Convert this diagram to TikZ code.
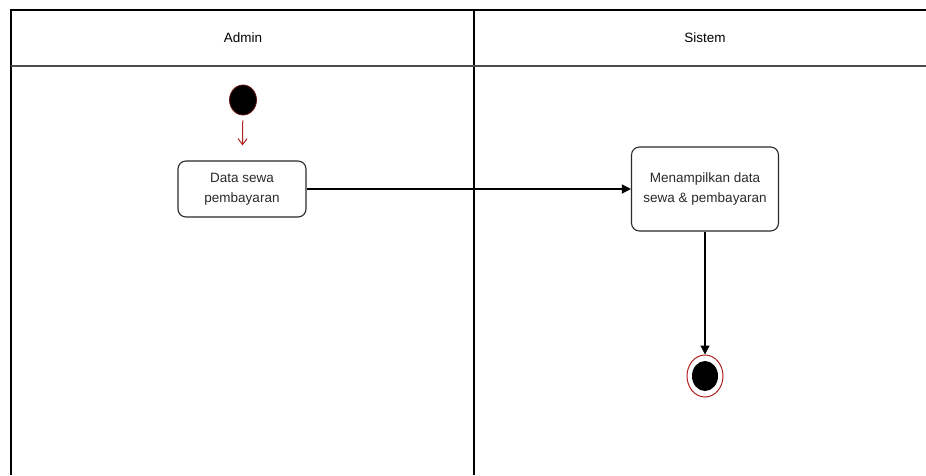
\documentclass[tikz,border=0pt]{standalone}
\usepackage{fontspec}
\setmainfont{Liberation Sans}
\usetikzlibrary{arrows.meta,shapes.geometric}
\definecolor{ink}{HTML}{2A2A2A}
\definecolor{ringred}{HTML}{B02020}
\begin{document}
\begin{tikzpicture}[x=1pt,y=-1pt,
  lane/.style={draw=black,line width=1.3pt},
  headrule/.style={draw=black!70,line width=2pt},
  lanetitle/.style={font=\fontsize{13.5}{15}\selectfont,text=black},
  action/.style={draw=ink,line width=1.1pt,rounded corners=8pt,fill=white,
    align=center,text=ink,font=\fontsize{13.5}{19.5}\selectfont,inner sep=0pt},
  flow/.style={draw=black,line width=1.2pt,-{Triangle[length=9pt,width=9pt]}},
  initial/.style={ellipse,fill=black,draw=ringred!60!black,line width=0.8pt,
    minimum width=27pt,minimum height=30pt,inner sep=0pt},
  final/.style={ellipse,draw=ringred,line width=1pt,fill=white,
    minimum width=36pt,minimum height=42pt,inner sep=0pt}
]
\useasboundingbox (0,0) rectangle (926,475);

% swimlane frame
\draw[lane] (926,10) -- (11,10) -- (11,475);
\draw[lane] (474,10) -- (474,475);
\draw[headrule] (11,65.5) -- (926,65.5);
\node[lanetitle] (adminT) at (243,38) {Admin};
\node[lanetitle] (sistemT) at (705,38) {Sistem};

% nodes
\node[initial] (start) at (243,100) {};
\node[action,minimum width=128pt,minimum height=56pt] (data) at (242,189)
  {Data sewa\\pembayaran};
\node[action,minimum width=147pt,minimum height=84pt] (show) at (705,189)
  {Menampilkan data\\sewa \& pembayaran};
\node[final] (stop) at (705,376) {};
\node[ellipse,fill=black,minimum width=26pt,minimum height=30pt,inner sep=0pt]
  (stopdot) at (stop.center) {};

% connectors
\draw[draw=ringred,line width=1pt,-{Straight Barb[length=6pt,width=9pt]},
  shorten <=5pt,shorten >=15pt] (start) -- (data);
\draw[flow] (data.east) -- (show.west);
\draw[flow] (show.south) -- (stop.north);
\end{tikzpicture}
\end{document}
